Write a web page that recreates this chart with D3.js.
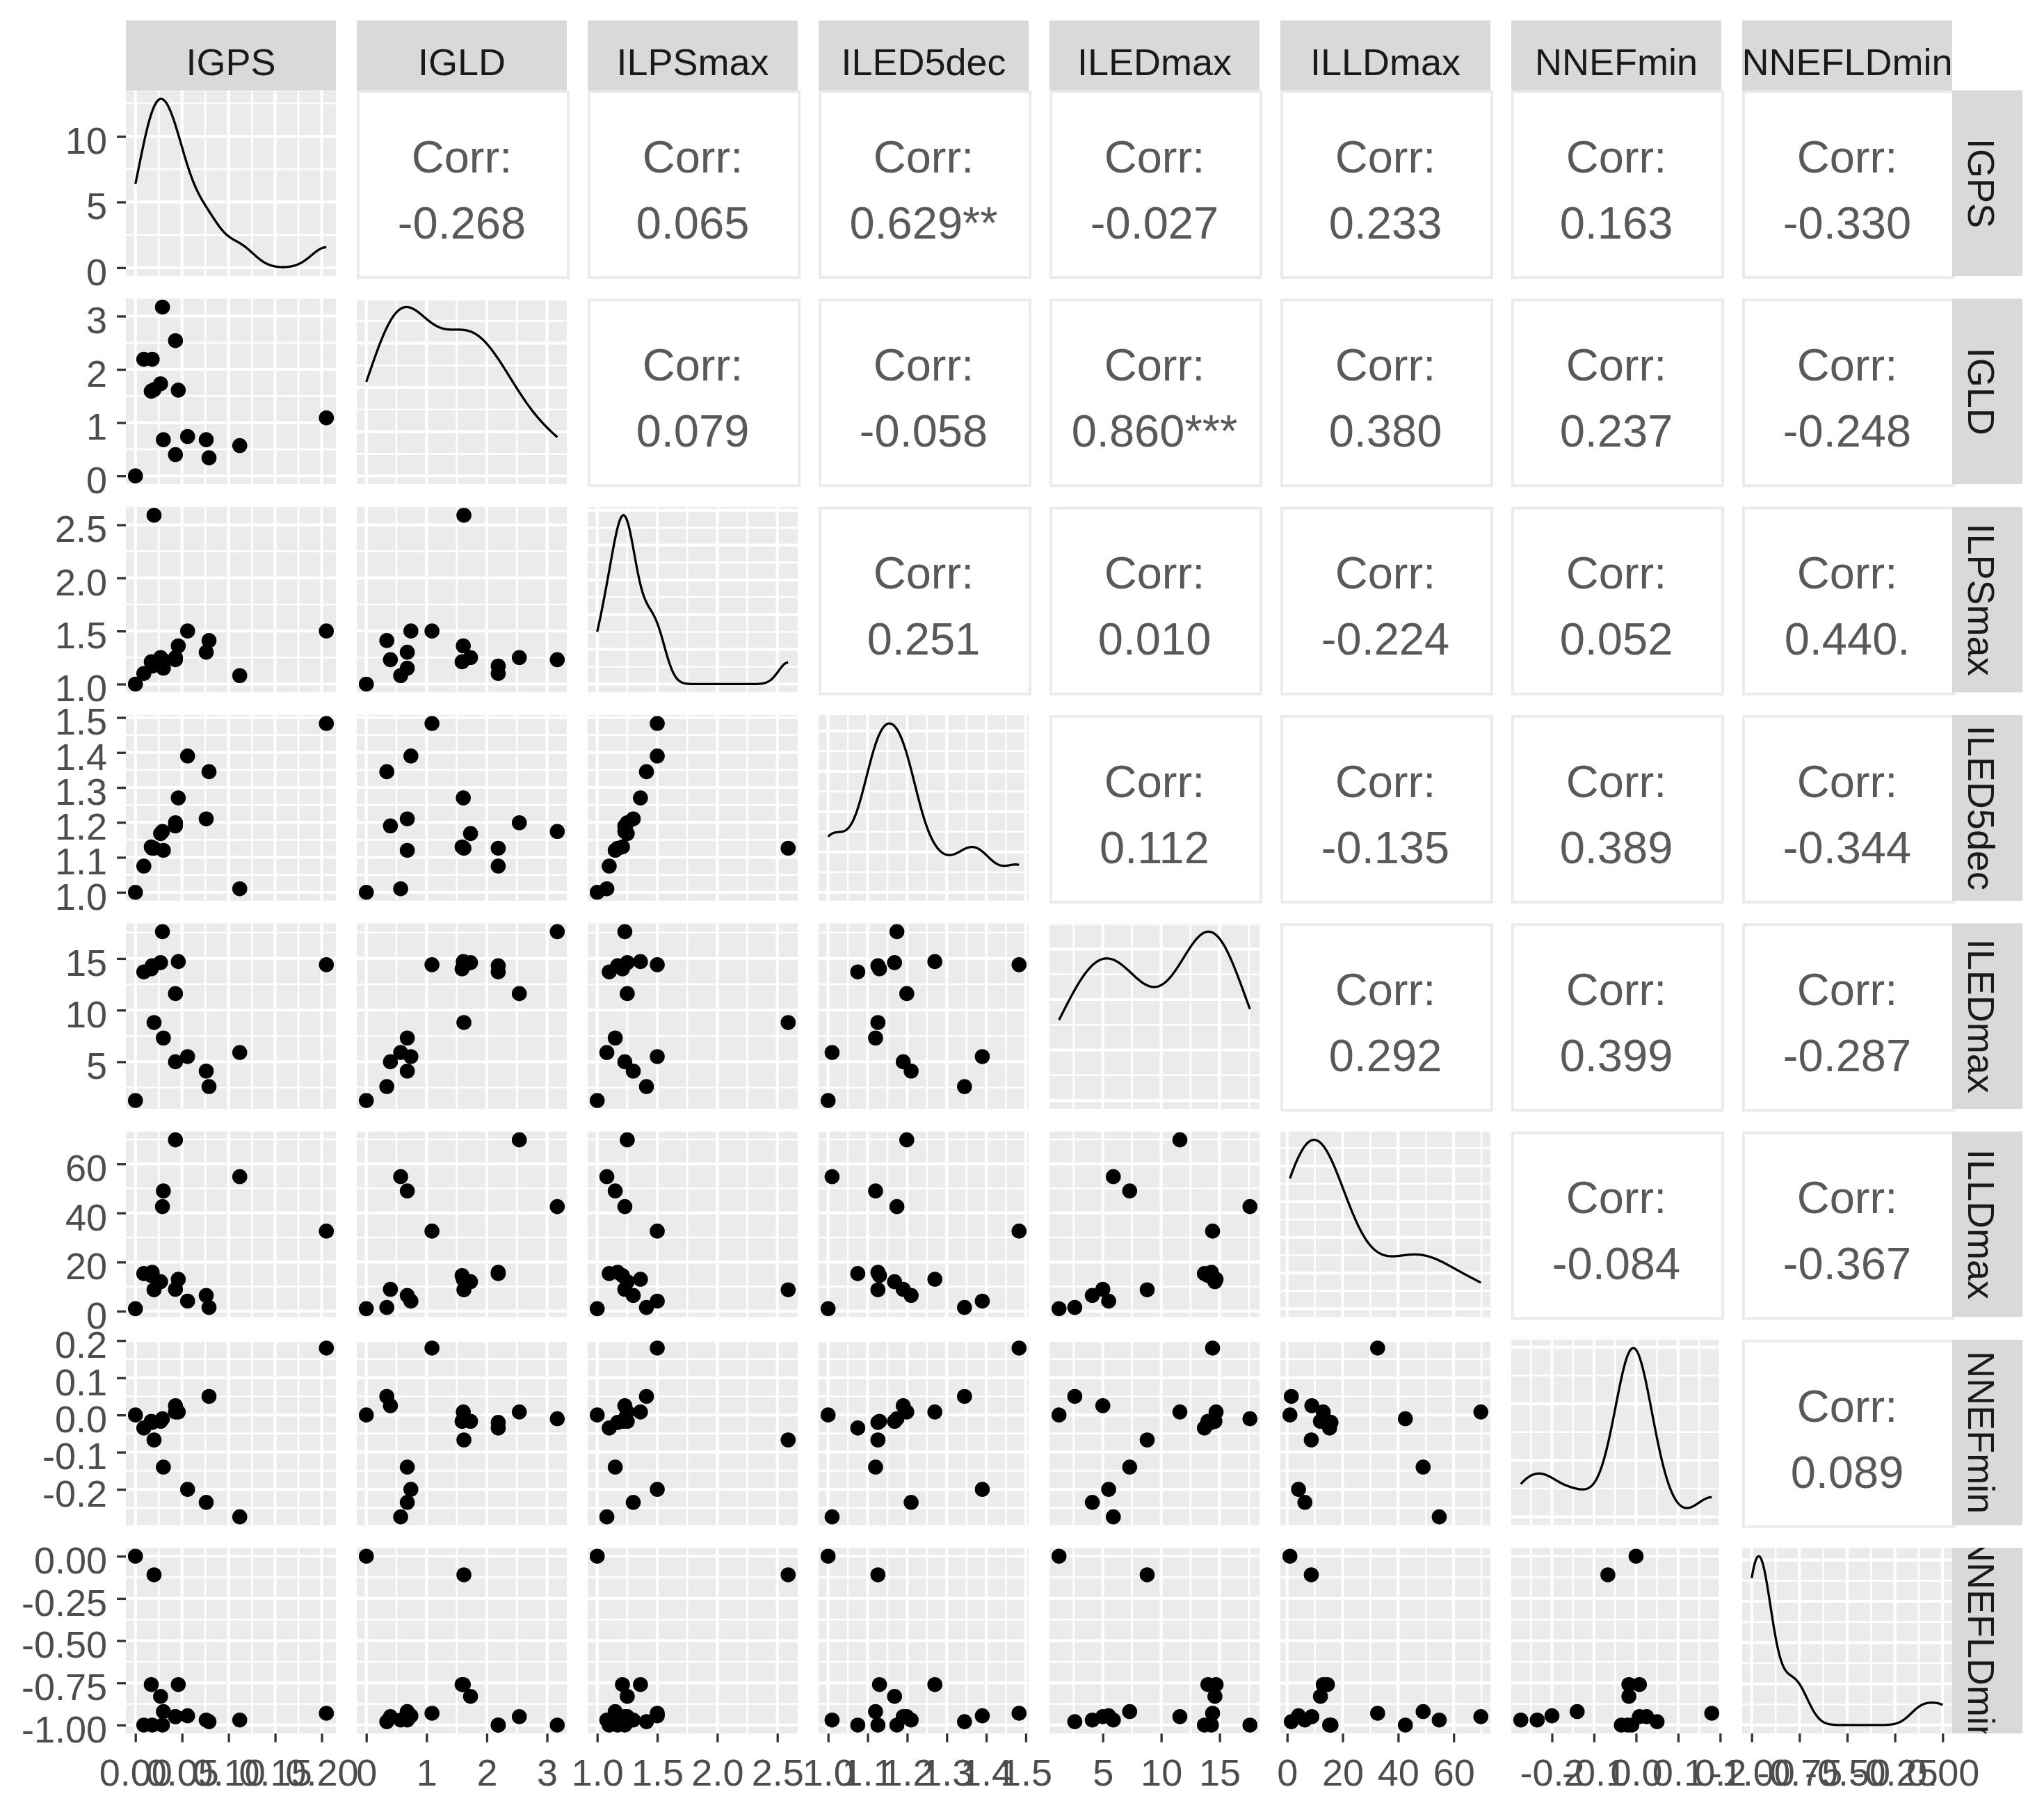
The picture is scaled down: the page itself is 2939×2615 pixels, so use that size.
<!DOCTYPE html>
<html><head><meta charset="utf-8">
<script src="https://cdn.jsdelivr.net/npm/d3@7"></script>
<style>
body{margin:0;background:#fff}
svg{display:block}
text{font-family:"Liberation Sans",Arial,sans-serif}
</style>
</head><body>
<svg id="chart" width="2939" height="2615"></svg>
<script>
const varNames = ["IGPS","IGLD","ILPSmax","ILED5dec","ILEDmax","ILLDmax","NNEFmin","NNEFLDmin"];

const IGPS      = [0.205, 0.000, 0.020, 0.029, 0.043, 0.112, 0.030, 0.056, 0.076, 0.043, 0.079, 0.046, 0.018, 0.009, 0.017, 0.027];
const IGLD      = [1.09, 0.00, 1.62, 3.17, 2.54, 0.57, 0.68, 0.74, 0.68, 0.40, 0.34, 1.61, 2.19, 2.19, 1.59, 1.73];
const ILPSmax   = [1.50, 1.00, 2.59, 1.23, 1.25, 1.08, 1.15, 1.50, 1.30, 1.23, 1.41, 1.36, 1.17, 1.10, 1.21, 1.25];
const ILED5dec  = [1.483, 1.000, 1.126, 1.174, 1.199, 1.010, 1.120, 1.390, 1.210, 1.190, 1.345, 1.270, 1.126, 1.075, 1.130, 1.168];
const ILEDmax   = [14.4, 1.25, 8.8, 17.6, 11.6, 5.9, 7.3, 5.5, 4.1, 5.0, 2.6, 14.7, 14.3, 13.7, 14.0, 14.6];
const ILLDmax   = [32.6, 1.0, 8.7, 42.6, 69.8, 54.8, 49.0, 4.1, 6.4, 8.9, 1.5, 13.0, 15.8, 15.3, 14.5, 12.0];
const NNEFmin   = [0.180, 0.000, -0.067, -0.010, 0.008, -0.274, -0.140, -0.200, -0.235, 0.025, 0.050, 0.008, -0.020, -0.035, -0.017, -0.017];
const NNEFLDmin = [-0.93, 0.00, -0.11, -1.00, -0.95, -0.97, -0.92, -0.945, -0.97, -0.95, -0.98, -0.76, -1.00, -1.00, -0.76, -0.83];

// tick values and labels
const ticksIGPS = [0, 0.05, 0.10, 0.15, 0.20];
const labelsIGPS = ["0.00","0.05","0.10","0.15","0.20"];
const ticksIGLD = [0, 1, 2, 3];
const labelsIGLD = ["0","1","2","3"];
const ticksILPSmax = [1.0, 1.5, 2.0, 2.5];
const labelsILPSmax = ["1.0","1.5","2.0","2.5"];
const ticksILED5dec = [1.0, 1.1, 1.2, 1.3, 1.4, 1.5];
const labelsILED5dec = ["1.0","1.1","1.2","1.3","1.4","1.5"];
const ticksILEDmax = [5, 10, 15];
const labelsILEDmax = ["5","10","15"];
const ticksILLDmax = [0, 20, 40, 60];
const labelsILLDmax = ["0","20","40","60"];
const ticksNNEFmin = [-0.2, -0.1, 0.0, 0.1, 0.2];
const labelsNNEFmin = ["-0.2","-0.1","0.0","0.1","0.2"];
const ticksNNEFLDmin = [-1.0, -0.75, -0.5, -0.25, 0.0];
const labelsNNEFLDmin = ["-1.00","-0.75","-0.50","-0.25","0.00"];
const ticksDensityIGPS = [0, 5, 10];
const labelsDensityIGPS = ["0","5","10"];

// correlation labels, upper triangle, row by row
const corrLabels = [
  "-0.268","0.065","0.629**","-0.027","0.233","0.163","-0.330",
  "0.079","-0.058","0.860***","0.380","0.237","-0.248",
  "0.251","0.010","-0.224","0.052","0.440.",
  "0.112","-0.135","0.389","-0.344",
  "0.292","0.399","-0.287",
  "-0.084","-0.367",
  "0.089"
];

// ---------------- layout ----------------
const L0 = 181, CW = 302, CSTEP = 332;
const T0 = 130, RH = 267, RSTEP = 299.3;
const STRIP_TOP = 29.3, STRIP_H = 100.7;
const RSTRIP_X = 2807, RSTRIP_W = 101;
const FS = 54, CORR_FS = 65;
const PANEL_BG = "#EBEBEB", STRIP_BG = "#D9D9D9";
const MAJOR_W = 4.2, MINOR_W = 2.6;

const dataCols = [IGPS, IGLD, ILPSmax, ILED5dec, ILEDmax, ILLDmax, NNEFmin, NNEFLDmin];
const tickCols = [ticksIGPS, ticksIGLD, ticksILPSmax, ticksILED5dec, ticksILEDmax, ticksILLDmax, ticksNNEFmin, ticksNNEFLDmin];
const labelCols = [labelsIGPS, labelsIGLD, labelsILPSmax, labelsILED5dec, labelsILEDmax, labelsILLDmax, labelsNNEFmin, labelsNNEFLDmin];
const nv = varNames.length;
const nObs = IGPS.length;

const colX = i => L0 + i * CSTEP;
const rowY = j => T0 + j * RSTEP;

function expanded(v){ const [lo, hi] = d3.extent(v); const r = hi - lo; return [lo - 0.05*r, hi + 0.05*r]; }
const xScales = dataCols.map((v,i) => d3.scaleLinear().domain(expanded(v)).range([colX(i), colX(i)+CW]));
const yScales = dataCols.map((v,j) => d3.scaleLinear().domain(expanded(v)).range([rowY(j)+RH, rowY(j)]));

function minorBreaks(major, domain){
  const step = major[1] - major[0];
  const ext = [major[0]-step, ...major, major[major.length-1]+step];
  const out = [];
  for (let i = 0; i < ext.length-1; i++){
    const m = (ext[i]+ext[i+1])/2;
    if (m >= domain[0] && m <= domain[1]) out.push(m);
  }
  return out;
}
function inDomain(vals, domain){ return vals.filter(v => v >= domain[0]-1e-9 && v <= domain[1]+1e-9); }

// gaussian KDE with R's bw.nrd0
function bwNrd0(x){
  const s = x.slice().sort(d3.ascending);
  const sd = d3.deviation(x);
  const iqr = d3.quantileSorted(s, 0.75) - d3.quantileSorted(s, 0.25);
  let lo = Math.min(sd, iqr/1.34);
  if (!lo) lo = sd || Math.abs(x[0]) || 1;
  return 0.9 * lo * Math.pow(x.length, -0.2);
}
function kde(x, npts){
  const h = bwNrd0(x);
  const [lo, hi] = d3.extent(x);
  const k = 1/(Math.sqrt(2*Math.PI)*h*x.length);
  return d3.range(npts).map(i => {
    const t = lo + (hi-lo)*i/(npts-1);
    let s = 0;
    for (const xi of x){ const u = (t-xi)/h; s += Math.exp(-0.5*u*u); }
    return [t, s*k];
  });
}

// ---------------- drawing ----------------
const svg = d3.select("#chart");
svg.append("rect").attr("width",2939).attr("height",2615).attr("fill","#fff");
const defs = svg.append("defs");

function clipRect(id, x, y, w, h){
  defs.append("clipPath").attr("id", id).append("rect").attr("x",x).attr("y",y).attr("width",w).attr("height",h);
  return "url(#"+id+")";
}

function drawGrid(g, x0, y0, xs, xMajor, ys, yMajor){
  const xDom = xs.domain(), yDom = ys.domain();
  const xMin = minorBreaks(xMajor, xDom), yMin = minorBreaks(yMajor, yDom);
  const xMaj = inDomain(xMajor, xDom), yMaj = inDomain(yMajor, yDom);
  g.selectAll(null).data(yMin).join("line")
    .attr("x1",x0).attr("x2",x0+CW).attr("y1",d=>ys(d)).attr("y2",d=>ys(d))
    .attr("stroke","#fff").attr("stroke-width",MINOR_W);
  g.selectAll(null).data(xMin).join("line")
    .attr("y1",y0).attr("y2",y0+RH).attr("x1",d=>xs(d)).attr("x2",d=>xs(d))
    .attr("stroke","#fff").attr("stroke-width",MINOR_W);
  g.selectAll(null).data(yMaj).join("line")
    .attr("x1",x0).attr("x2",x0+CW).attr("y1",d=>ys(d)).attr("y2",d=>ys(d))
    .attr("stroke","#fff").attr("stroke-width",MAJOR_W);
  g.selectAll(null).data(xMaj).join("line")
    .attr("y1",y0).attr("y2",y0+RH).attr("x1",d=>xs(d)).attr("x2",d=>xs(d))
    .attr("stroke","#fff").attr("stroke-width",MAJOR_W);
}

const diagYScales = [];
let corrIdx = 0;

for (let r = 0; r < nv; r++){
  for (let c = 0; c < nv; c++){
    const x0 = colX(c), y0 = rowY(r);
    if (c > r){
      // correlation panel
      const g = svg.append("g");
      g.append("rect").attr("x",x0+2).attr("y",y0+2).attr("width",CW).attr("height",RH)
        .attr("fill","#fff").attr("stroke",PANEL_BG).attr("stroke-width",4);
      const cx = x0 + CW/2, cy = y0 + RH/2;
      g.append("text").attr("x",cx).attr("y",cy-15.8).attr("text-anchor","middle")
        .attr("font-size",CORR_FS).attr("fill","#595959").text("Corr:");
      g.append("text").attr("x",cx).attr("y",cy+79.2).attr("text-anchor","middle")
        .attr("font-size",CORR_FS).attr("fill","#595959").text(corrLabels[corrIdx++]);
    } else if (c === r){
      // density panel
      const g = svg.append("g").attr("clip-path", clipRect("cp"+r+"_"+c, x0, y0, CW, RH));
      g.append("rect").attr("x",x0).attr("y",y0).attr("width",CW).attr("height",RH).attr("fill",PANEL_BG);
      const dens = kde(dataCols[c], 512);
      const dmax = d3.max(dens, d => d[1]);
      const ys = d3.scaleLinear().domain([-0.05*dmax, 1.05*dmax]).range([y0+RH, y0]);
      diagYScales[r] = ys;
      const yMajor = (r === 0) ? ticksDensityIGPS : d3.ticks(ys.domain()[0], ys.domain()[1], 4);
      drawGrid(g, x0, y0, xScales[c], tickCols[c], ys, yMajor);
      g.append("path").datum(dens)
        .attr("d", d3.line().x(d => xScales[c](d[0])).y(d => ys(d[1])))
        .attr("fill","none").attr("stroke","#000").attr("stroke-width",3.3)
        .attr("stroke-linejoin","round");
    } else {
      // scatter panel
      const g = svg.append("g").attr("clip-path", clipRect("cp"+r+"_"+c, x0, y0, CW, RH));
      g.append("rect").attr("x",x0).attr("y",y0).attr("width",CW).attr("height",RH).attr("fill",PANEL_BG);
      drawGrid(g, x0, y0, xScales[c], tickCols[c], yScales[r], tickCols[r]);
      const pts = d3.range(nObs).map(k => [dataCols[c][k], dataCols[r][k]]);
      g.selectAll(null).data(pts).join("circle")
        .attr("cx", d => xScales[c](d[0])).attr("cy", d => yScales[r](d[1]))
        .attr("r", 10.8).attr("fill","#000");
    }
  }
}

// top strips
varNames.forEach((name, i) => {
  const x0 = colX(i);
  const g = svg.append("g").attr("clip-path", clipRect("st"+i, x0, STRIP_TOP, CW, STRIP_H));
  g.append("rect").attr("x",x0).attr("y",STRIP_TOP).attr("width",CW).attr("height",STRIP_H).attr("fill",STRIP_BG);
  g.append("text").attr("x",x0+CW/2).attr("y",STRIP_TOP+78.4).attr("text-anchor","middle")
    .attr("font-size",FS).attr("fill","#1A1A1A").text(name);
});
// right strips
varNames.forEach((name, j) => {
  const y0 = rowY(j);
  const g = svg.append("g").attr("clip-path", clipRect("sr"+j, RSTRIP_X, y0, RSTRIP_W, RH));
  g.append("rect").attr("x",RSTRIP_X).attr("y",y0).attr("width",RSTRIP_W).attr("height",RH).attr("fill",STRIP_BG);
  g.append("text").attr("transform","translate("+(RSTRIP_X+22.6)+","+(y0+RH/2)+") rotate(90)")
    .attr("text-anchor","middle").attr("font-size",FS).attr("fill","#1A1A1A").text(name);
});

// axes
function styleAxis(sel){
  sel.select(".domain").remove();
  sel.selectAll(".tick line").attr("stroke","#333333").attr("stroke-width",3.3);
  sel.selectAll(".tick text").attr("fill","#4D4D4D").attr("font-size",FS)
     .attr("font-family","Liberation Sans, Arial, sans-serif");
}
// left axes
for (let j = 0; j < nv; j++){
  const sc = (j === 0) ? diagYScales[0] : yScales[j];
  const tv = (j === 0) ? ticksDensityIGPS : tickCols[j];
  const tl = (j === 0) ? labelsDensityIGPS : labelCols[j];
  const ax = d3.axisLeft(sc).tickValues(tv).tickFormat((d,i) => tl[i]).tickSize(13).tickPadding(14);
  const g = svg.append("g").attr("transform","translate("+L0+",0)").call(ax);
  styleAxis(g);
  g.selectAll(".tick text").attr("dy", "0.45em");
}
// bottom axes
const bottomY = rowY(nv-1) + RH;
for (let i = 0; i < nv; i++){
  const ax = d3.axisBottom(xScales[i]).tickValues(tickCols[i]).tickFormat((d,k) => labelCols[i][k]).tickSize(12.5);
  const g = svg.append("g").attr("transform","translate(0,"+bottomY+")").call(ax);
  styleAxis(g);
  g.selectAll(".tick text").attr("dy", null).attr("y", 74.6);
}
</script>
</body></html>
